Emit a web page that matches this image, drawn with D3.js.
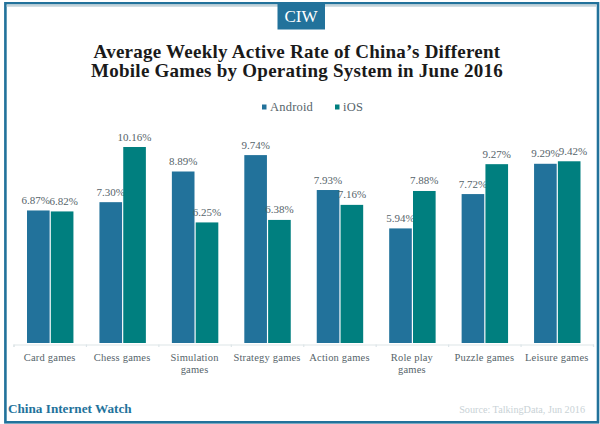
<!DOCTYPE html>
<html><head><meta charset="utf-8">
<script src="https://cdn.jsdelivr.net/npm/d3@7"></script>
<style>html,body{margin:0;padding:0;background:#fff}svg{display:block}text{font-family:"Liberation Serif",serif}</style>
</head><body><svg id="c" width="600" height="424"></svg>
<script>
const categories=[["Card games"],["Chess games"],["Simulation","games"],["Strategy games"],["Action games"],["Role play","games"],["Puzzle games"],["Leisure games"]];
const android=[6.87,7.30,8.89,9.74,7.93,5.94,7.72,9.29];
const ios=[6.82,10.16,6.25,6.38,7.16,7.88,9.27,9.42];
const seriesNames=["Android","iOS"];
const titleLines=["Average Weekly Active Rate of China’s Different","Mobile Games by Operating System in June 2016"];
const colors=["#22729b","#007f7f"];
const textColor="#56646a";
const svg=d3.select("#c");
// label nudges where neighbouring labels would collide: series -> category -> dx
const labelNudge=[{0:-2.5},{0:1.7,7:3.7}];
// frame
svg.append("rect").attr("x",5.4).attr("y",3.3).attr("width",592.6).attr("height",419).attr("fill","#fff").attr("stroke","#22729b").attr("stroke-width",2.6);
svg.append("line").attr("x1",6.7).attr("x2",596.7).attr("y1",5.5).attr("y2",5.5).attr("stroke","#c3d3da").attr("stroke-width",2.4);
svg.append("rect").attr("x",277.5).attr("y",3).attr("width",47.5).attr("height",26.5).attr("fill","#22729b");
svg.append("text").attr("x",301).attr("y",22).attr("text-anchor","middle").attr("font-size",17).attr("fill","#fff").text("CIW");
svg.selectAll("text.t").data(titleLines).join("text").attr("class","t").attr("x",297).attr("y",(d,i)=>58+i*19)
 .attr("text-anchor","middle").attr("font-size",19).attr("letter-spacing",0.25).attr("font-weight","bold").attr("fill","#1a1a1a").text(d=>d);
// legend
const lx=[262,335];
seriesNames.forEach((n,i)=>{
 svg.append("rect").attr("x",lx[i]).attr("y",104.5).attr("width",4.5).attr("height",5).attr("fill",colors[i]);
 svg.append("text").attr("x",lx[i]+8).attr("y",111).attr("font-size",12.5).attr("letter-spacing",0.2).attr("fill",textColor).text(n);
});
// scales
const x=d3.scaleBand().domain(d3.range(categories.length)).range([13.5,593]);
const bw=x.bandwidth();
const x1=d3.scaleBand().domain([0,1]).range([13.5,bw-12.5]).paddingInner(0.05);
const y=d3.scaleLinear().domain([0,10.16]).range([343,147]);
const edge=d3.scaleLinear().domain([0,categories.length]).range([13.5,593]);
const gAxis=svg.append("g").attr("transform","translate(0,344.5)")
  .call(d3.axisBottom(edge).ticks(categories.length).tickSize(2.5).tickSizeOuter(2.5).tickFormat(""));
gAxis.selectAll(".domain,.tick line").attr("stroke","#dde5e8").attr("stroke-width",1.2);
[android,ios].forEach((vals,s)=>{
 const g=svg.append("g");
 g.selectAll("rect").data(vals).join("rect")
  .attr("x",(d,i)=>x(i)+x1(s)).attr("y",d=>y(d)).attr("width",x1.bandwidth()).attr("height",d=>y(0)-y(d)).attr("fill",colors[s]);
 g.selectAll("text").data(vals).join("text")
  .attr("x",(d,i)=>x(i)+x1(s)+x1.bandwidth()/2+(labelNudge[s][i]||0)).attr("y",d=>y(d)-6.5)
  .attr("text-anchor","middle").attr("font-size",11).attr("fill",textColor).text(d=>d.toFixed(2)+"%");
});
// category labels
categories.forEach((lines,i)=>{
 lines.forEach((l,j)=>svg.append("text").attr("x",x(i)+bw/2).attr("y",360.5+j*12.7)
  .attr("text-anchor","middle").attr("font-size",10.5).attr("letter-spacing",0.2).attr("fill",textColor).text(l));
});
svg.append("text").attr("x",8).attr("y",413).attr("font-size",13.2).attr("font-weight","bold").attr("fill","#22729b").text("China Internet Watch");
svg.append("text").attr("x",585).attr("y",413).attr("text-anchor","end").attr("font-size",10.2).attr("fill","#c9d2d6").text("Source: TalkingData, Jun 2016");
</script></body></html>
